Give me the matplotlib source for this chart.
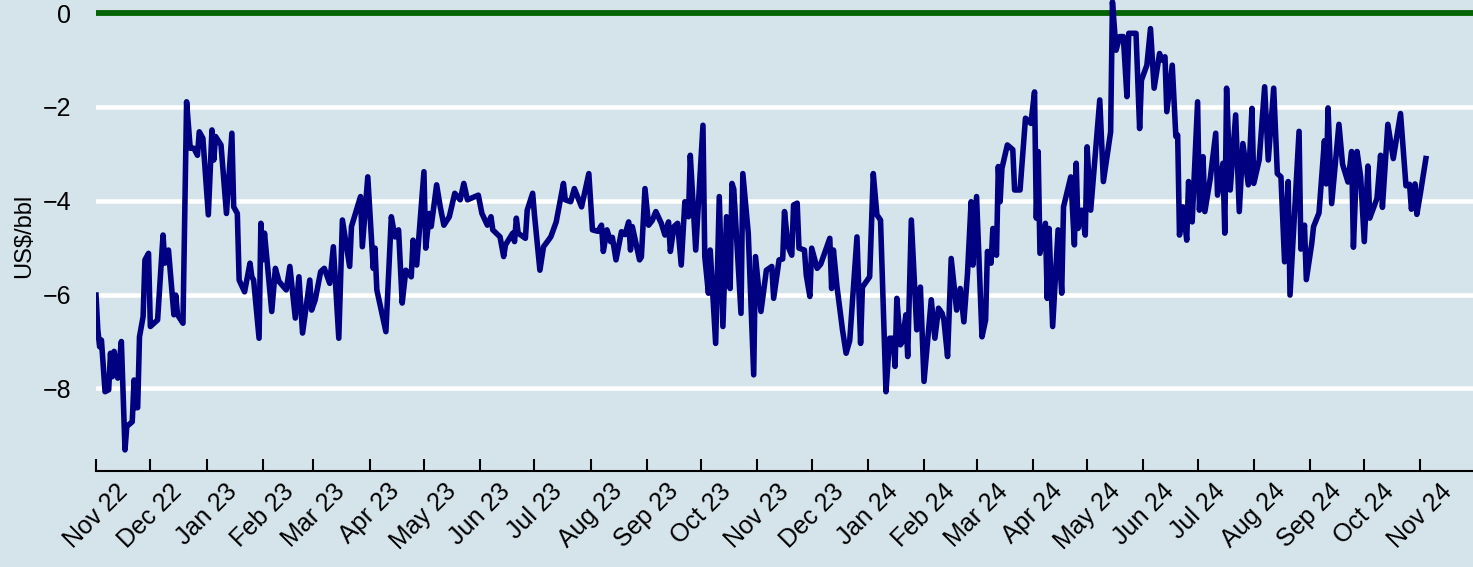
import pandas as pd
import matplotlib
matplotlib.use("Agg")
import matplotlib.pyplot as plt
import matplotlib.dates as mdates

plt.rcParams['font.family'] = ['Liberation Sans', 'DejaVu Sans']

# daily spread, stored as day offsets from the first observation
start_date = '2022-11-01'
day_offset = [
    0, 1, 2, 3, 5, 7, 8, 9, 10, 12, 14, 16, 17, 20, 21, 22, 23, 24, 26, 27, 29, 30, 34, 37, 38, 40, 43, 44, 45, 48,
    50, 52, 54, 56, 57, 59, 62, 64, 65,
    66, 69, 72, 75, 76, 78, 79, 82, 85, 86, 87, 90, 91, 92, 93, 97, 99, 101, 105, 107, 110, 112, 114, 118, 119, 121,
    124, 126, 129, 131,
    134, 136, 140, 141, 146, 147, 150, 153, 154, 155, 160, 163, 165, 167, 169, 171, 174, 175, 177, 181, 182, 184, 185,
    188, 190, 192, 195, 198,
    201, 203, 205, 211, 213, 216, 218, 219, 223, 225, 226, 230, 231, 232, 233, 237, 238, 241, 242, 245, 247, 251, 254,
    258, 259, 262, 264,
    268, 272, 274, 277, 279, 280, 282, 284, 285, 287, 290, 292, 294, 295, 296, 300, 301, 303, 305, 307, 309, 312, 314,
    316, 317, 319, 321, 323, 325, 327, 328, 331,
    335, 336, 338, 339, 342, 344, 346, 348, 350, 351, 352, 356, 357, 360, 363, 364, 367, 370, 373, 374, 377, 379, 380,
    382, 384, 385, 387, 388, 391, 392, 394, 395,
    398, 400, 405, 406, 407, 409, 412, 414, 416, 420, 422, 423, 427, 429, 431, 433, 436, 438, 440, 441, 442, 444, 445,
    447, 448, 450, 453, 455, 457, 461, 463,
    465, 467, 468, 470, 472, 475, 477, 479, 481, 483, 484, 486, 489, 491, 492, 494, 495, 497, 498, 499, 500, 503, 506,
    507, 510, 513, 516, 518, 519, 520, 521, 524, 525, 526, 528,
    531, 533, 534, 538, 540, 541, 542, 544, 546, 547, 549, 554, 556, 560, 561, 563, 565, 567, 569, 570, 574, 576, 577,
    580, 582, 584, 587, 588, 590, 591, 594,
    596, 597, 598, 600, 602, 603, 605, 608, 609, 611, 612, 615, 618, 619, 622, 623, 624, 626, 629, 631, 633, 636, 638,
    639, 642, 645, 647, 650, 652, 654, 656, 658, 659,
    664, 665, 667, 668, 671, 672, 675, 678, 679, 680, 682, 686, 688, 691, 693, 694, 696, 698, 700, 702, 703, 707, 709,
    710, 713, 716, 720, 723, 725, 726, 728, 729, 731, 734,
]
spread = [
    -6.01, -6.75, -7.11, -6.97, -8.07, -8.03, -7.25, -7.75, -7.21, -7.78, -7.0, -9.31, -8.81, -8.71, -7.82, -8.41,
    -8.41, -6.9, -6.47, -5.26, -5.12, -6.68, -6.54, -4.73, -5.33, -5.05, -6.43, -6.01, -6.43, -6.61, -1.89, -2.88,
    -2.88, -3.03, -2.53, -2.67, -4.30, -2.49, -3.13,
    -2.63, -2.81, -4.27, -2.56, -4.13, -4.27, -5.69, -5.94, -5.33, -5.62, -5.69, -6.93, -4.48, -5.26, -4.69, -6.36,
    -5.44, -5.72, -5.90, -5.40, -6.50, -5.62, -6.82, -5.69, -6.33, -6.11, -5.51, -5.44, -5.76, -4.98,
    -6.93, -4.41, -5.40, -4.55, -3.91, -4.98, -3.49, -5.44, -5.01, -5.90, -6.79, -4.34, -4.77, -4.62, -6.18, -5.48,
    -5.62, -4.84, -5.37, -3.38, -5.01, -4.27, -4.55, -3.66, -4.13, -4.52, -4.34, -3.84,
    -3.98, -3.63, -3.98, -3.88, -4.27, -4.52, -4.34, -4.62, -4.77, -5.19, -4.94, -4.69, -4.87, -4.37, -4.69, -4.80,
    -4.20, -3.84, -4.30, -5.48, -4.98, -4.77, -4.45, -3.63, -3.98, -4.02, -3.74,
    -4.13, -3.42, -4.62, -4.65, -4.52, -5.08, -4.62, -4.87, -4.78, -5.26, -4.66, -4.72, -4.45, -5.05, -4.55, -5.26,
    -5.20, -3.74, -4.52, -4.42, -4.23, -4.48, -4.73, -4.45, -5.08, -4.55, -4.48, -5.37, -4.02, -4.34, -3.03, -5.05,
    -2.39, -5.19, -5.97, -5.05, -7.04, -3.91, -6.68, -4.34, -5.87, -3.63, -3.75, -6.40, -3.42, -4.69, -7.71, -5.19,
    -6.36, -5.48, -5.40, -6.08, -5.26, -5.24, -4.23, -4.98, -5.16, -4.09, -4.05, -5.01, -5.05, -5.58, -6.04, -5.01,
    -5.44, -5.35, -4.80, -5.87, -5.05, -5.84, -6.75, -7.25, -6.98, -4.77, -7.04, -5.84, -5.62, -3.42, -4.30, -4.41,
    -8.07, -6.93, -6.93, -7.53, -6.08, -7.07, -7.0, -6.43, -7.32, -4.41, -6.75, -5.84, -7.85, -6.11, -6.93,
    -6.29, -6.40, -6.55, -7.32, -5.23, -6.33, -5.87, -6.58, -5.55, -4.02, -5.37, -3.91, -6.90, -6.54, -5.08, -5.33,
    -4.59, -5.16, -3.27, -4.02, -3.31, -2.81, -2.91, -3.77, -3.77, -2.24, -2.35, -1.68, -4.37, -2.95, -5.12, -4.48,
    -6.08, -4.59, -6.68,
    -4.62, -5.97, -4.13, -3.49, -4.94, -3.20, -4.59, -4.20, -4.73, -2.85, -4.20, -1.85, -3.59, -2.53, 0.24, -0.79,
    -0.50, -0.50, -1.78, -0.43, -0.43, -2.46, -1.43, -1.11, -0.33, -1.60, -0.86, -1.0, -0.93, -2.10, -1.11,
    -2.63, -2.6, -4.73, -4.13, -4.84, -3.59, -4.45, -1.89, -4.20, -3.06, -4.23, -3.52, -2.56, -3.88, -3.20, -4.69,
    -1.60, -3.77, -2.17, -4.23, -2.78, -3.66, -2.03, -3.63, -3.13, -1.57, -3.13, -1.60, -3.42, -3.49, -5.30, -3.59,
    -6.01,
    -2.52, -5.03, -4.52, -5.68, -4.91, -4.55, -4.26, -2.72, -3.64, -2.02, -4.06, -2.37, -3.22, -3.60, -2.95, -4.99,
    -2.95, -3.49, -4.87, -3.26, -4.37, -3.95, -3.03, -4.14, -2.37, -3.10, -2.14, -3.68, -3.65, -4.18, -3.64, -4.29,
    -3.83, -3.10,
]
y_ticks = [0, -2, -4, -6, -8]
grid_levels = [-2, -4, -6, -8]

bg = '#d5e3eb'

dates = pd.Timestamp(start_date) + pd.to_timedelta(day_offset, unit='D')

fig = plt.figure(figsize=(14.73, 5.67), dpi=100, facecolor=bg)
ax = fig.add_axes([96 / 1473, 96 / 567, 1 - 96 / 1473, 1 - 96 / 567])
ax.set_facecolor(bg)

for lvl in grid_levels:
    ax.axhline(lvl, color='white', lw=3.3, zorder=1)
ax.axhline(0, color='#006400', lw=4.2, zorder=2)
ax.plot(dates, spread, color='#000080', lw=4.0, zorder=3, solid_joinstyle='round')

ax.set_xlim(pd.Timestamp('2022-11-01'), pd.Timestamp('2024-11-30'))
ax.set_ylim(-9.76, 0.28)
ax.set_yticks(y_ticks)
ax.tick_params(axis='y', length=0, pad=18, labelsize=18)
ax.xaxis.set_major_locator(mdates.MonthLocator())
ax.xaxis.set_major_formatter(mdates.DateFormatter('%b %y'))
ax.tick_params(axis='x', direction='in', length=9, width=1.5, labelsize=18, pad=6, labelrotation=45)

for s in ['top', 'right', 'left']:
    ax.spines[s].set_visible(False)
ax.spines['bottom'].set_linewidth(1.5)

ax.set_ylabel('US$/bbl', fontsize=17, labelpad=5)

fig.savefig('out.png', dpi=100, facecolor=bg)
